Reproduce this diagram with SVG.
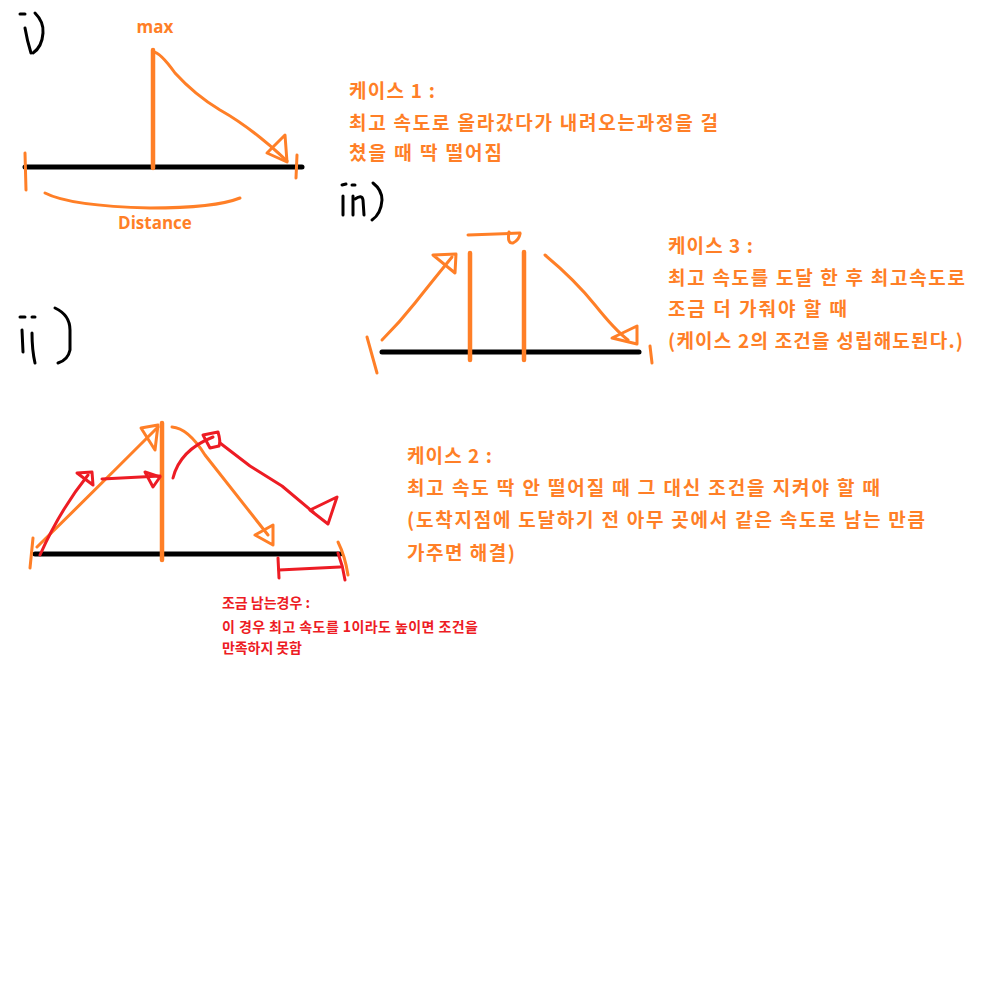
<svg xmlns="http://www.w3.org/2000/svg" width="1000" height="1000" viewBox="0 0 1000 1000">
<style>
.bg{fill:#ffffff}
.ax{stroke:#000000;stroke-width:5;stroke-linecap:round;fill:none}
.hb{stroke:#000000;stroke-width:3;stroke-linecap:round;stroke-linejoin:round;fill:none}
.o{stroke:#ff7f27;stroke-width:3;stroke-linecap:round;stroke-linejoin:round;fill:none}
.ov{stroke:#ff7f27;stroke-width:4.5;stroke-linecap:round;fill:none}
.r{stroke:#ed1c24;stroke-width:3;stroke-linecap:round;stroke-linejoin:round;fill:none}
.t{font-family:"Noto Sans CJK KR","Noto Sans",sans-serif;font-weight:700;font-size:19px;fill:#ff7f27}
.tl{font-family:"Open Sans","Noto Sans",sans-serif;font-weight:700;font-size:17px;fill:#ff7f27;text-anchor:middle}
.tr{font-family:"Noto Sans CJK KR","Noto Sans",sans-serif;font-weight:700;font-size:14px;fill:#ed1c24}
</style>
<rect class="bg" x="0" y="0" width="1000" height="1000"/>

<g id="panel-i">
  <g id="label-i">
    <path class="hb" d="M20,14 L25,14"/>
    <path class="hb" d="M25,28 Q27,40 31,53"/>
    <path class="hb" d="M35,13 Q44,22 43,33 Q42,47 33,53"/>
  </g>
  <path class="ax" d="M25,167 L302,167"/>
  <path class="o" d="M25,153 L26,190"/>
  <path class="o" d="M297,155 L296,178"/>
  <path class="ov" d="M153,50 L153,168"/>
  <path class="o" d="M45,193 Q70,206 150,208 Q215,208 240,198"/>
  <text class="tl" x="155" y="33">max</text>
  <text class="tl" x="155" y="229" font-size="17.5">Distance</text>
</g>

<g id="panel-iii">
  <g id="label-iii">
    <path class="hb" d="M342,185 L346,184"/>
    <path class="hb" d="M352,185 L355,185"/>
    <path class="hb" d="M343,196 L343,215"/>
    <path class="hb" d="M353,196 L353,215"/>
    <path class="hb" d="M355,199 Q362,194 363,200 L364,215"/>
    <path class="hb" d="M373,183 Q382,190 382,200 Q381,214 372,220"/>
  </g>
  <path class="ax" d="M382,352 L639,352"/>
  <path class="o" d="M367,337 Q372,355 377,373"/>
  <path class="o" d="M650,346 L652,363"/>
  <path class="ov" d="M470,253 L470,360"/>
  <path class="ov" d="M524,252 L524,360"/>
</g>

<g id="panel-ii">
  <g id="label-ii">
    <path class="hb" d="M20,317 L25,317"/>
    <path class="hb" d="M32,317 L35,317"/>
    <path class="hb" d="M22,330 L23,352"/>
    <path class="hb" d="M32,333 Q32,350 35,363"/>
    <path class="hb" d="M55,308 Q70,315 70,330 L70,350 Q68,360 58,363"/>
  </g>
  <path class="ax" d="M35,554 L340,554"/>
  <path class="o" d="M33,538 L30,568"/>
  <path class="o" d="M338,542 Q345,556 348,575"/>
  <path class="ov" d="M162,423 L162,560"/>
  <path class="r" d="M278,558 L279,578"/>
  <path class="r" d="M279,570 L340,567"/>
  <path class="r" d="M338,553 Q343,566 345,580"/>
</g>

<g id="connectors">
  <!-- panel i -->
  <path class="o" d="M153,52 Q160,52 175,73 Q195,95 220,110 Q252,128 287,161"/>
  <path class="o" d="M287,162 L267,153 L285,135 Z"/>
  <!-- panel iii -->
  <path class="o" d="M468,235 L520,233"/>
  <path class="o" d="M509,232 Q507,244 513,243 Q519,240 520,234"/>
  <path class="o" d="M382,340 Q400,322 415,303 T452,257"/>
  <path class="o" d="M433,255 L456,254 L455,273 Z"/>
  <path class="o" d="M545,255 Q575,280 595,305 T628,340"/>
  <path class="o" d="M612,338 L637,326 L637,344 Z"/>
  <!-- panel ii orange -->
  <path class="o" d="M37,547 Q100,485 158,427"/>
  <path class="o" d="M141,428 L158,425 L155,450 Z"/>
  <path class="o" d="M172,427 Q188,428 205,455 L268,535"/>
  <path class="o" d="M255,535 L273,525 L273,545 Z"/>
  <!-- panel ii red -->
  <path class="r" d="M40,555 Q60,510 88,475"/>
  <path class="r" d="M77,473 L92,472 L93,485 Z"/>
  <path class="r" d="M102,479 L160,476"/>
  <path class="r" d="M145,472 L160,477 L153,487 Z"/>
  <path class="r" d="M173,478 Q180,450 213,437"/>
  <path class="r" d="M203,435 L218,432 Q221,442 219,446 L210,448 Z"/>
  <path class="r" d="M220,443 L250,466 L282,486 L313,512"/>
  <path class="r" d="M310,510 L337,497 L328,524 Z"/>
</g>

<g id="text-case1">
  <text class="t" x="349" y="98" textLength="86">케이스 1 :</text>
  <text class="t" x="349" y="130" textLength="369">최고 속도로 올라갔다가 내려오는과정을 걸</text>
  <text class="t" x="349" y="160" textLength="153">쳤을 때 딱 떨어짐</text>
</g>
<g id="text-case3">
  <text class="t" x="668" y="253" textLength="85">케이스 3 :</text>
  <text class="t" x="668" y="285" textLength="297">최고 속도를 도달 한 후 최고속도로</text>
  <text class="t" x="668" y="316" textLength="179">조금 더 가줘야 할 때</text>
  <text class="t" x="668" y="348" textLength="295">(케이스 2의 조건을 성립해도된다.)</text>
</g>
<g id="text-case2">
  <text class="t" x="407" y="463" textLength="85">케이스 2 :</text>
  <text class="t" x="407" y="495" textLength="473">최고 속도 딱 안 떨어질 때 그 대신 조건을 지켜야 할 때</text>
  <text class="t" x="407" y="527" textLength="518">(도착지점에 도달하기 전 아무 곳에서 같은 속도로 남는 만큼</text>
  <text class="t" x="407" y="559.5" textLength="108">가주면 해결)</text>
</g>
<g id="text-note">
  <text class="tr" x="222" y="608" textLength="88">조금 남는경우 :</text>
  <text class="tr" x="222" y="632" textLength="256">이 경우 최고 속도를 1이라도 높이면 조건을</text>
  <text class="tr" x="222" y="653" textLength="80">만족하지 못함</text>
</g>
</svg>
